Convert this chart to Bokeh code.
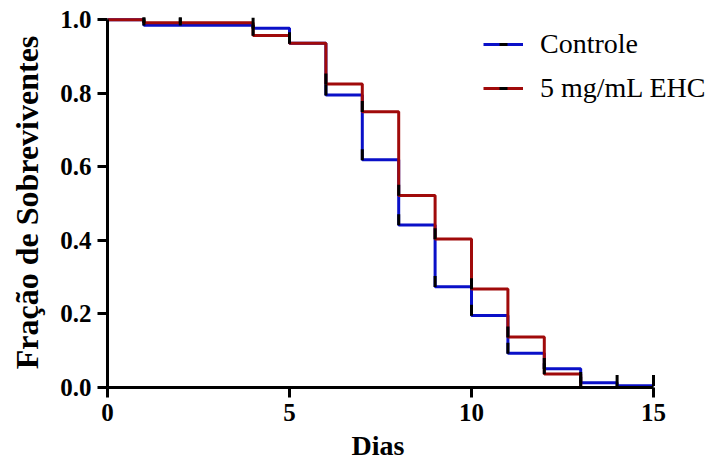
import numpy as np
from bokeh.plotting import figure
from bokeh.models import Range1d, FixedTicker, PrintfTickFormatter, Legend, LegendItem, Title
from bokeh.embed import file_html
from bokeh.resources import INLINE

# Data (Kaplan-Meier survival steps)
ctrl_days = [0, 1, 4, 5, 6, 7, 8, 9, 10, 11, 12, 13, 14, 15]
ctrl_surv = [1.0, 0.985, 0.977, 0.936, 0.795, 0.619, 0.442, 0.274, 0.196, 0.093, 0.051, 0.013, 0.005, 0.005]
ehc_days = [0, 1, 4, 5, 6, 7, 8, 9, 10, 11, 12, 13]
ehc_surv = [1.0, 0.992, 0.957, 0.936, 0.825, 0.750, 0.522, 0.404, 0.268, 0.137, 0.037, 0.0]
ctrl_marks = [1, 2, 4, 5, 6, 7, 8, 9, 10, 11, 12, 13, 14, 15]
ehc_marks = [1, 2, 4, 5, 6, 7, 8, 9, 10, 11, 12, 13]
x_ticks = [0, 5, 10, 15]
y_ticks = [0.0, 0.2, 0.4, 0.6, 0.8, 1.0]
series_names = ["Controle", "5 mg/mL EHC"]
x_label = "Dias"
y_label = "Fração de Sobreviventes"

BLUE = "#0a10c8"
RED = "#a00a0a"
FONT = "Liberation Serif"


def level_at(days, surv, t):
    idx = np.searchsorted(np.array(days), t, side="right") - 1
    return np.array(surv)[idx]


# frame runs to the right edge so the legend text is not clipped;
# axis bounds keep the drawn axis at 0..15
px_per_day = 546 / 15.0
x_end = 15 + 72 / px_per_day

p = figure(width=725, height=472, output_backend="svg", toolbar_location=None,
           x_range=Range1d(0, x_end), y_range=Range1d(0, 1.006),
           min_border_left=107, min_border_right=0, min_border_top=17, min_border_bottom=85)
p.outline_line_color = None
p.xgrid.visible = False
p.ygrid.visible = False
p.background_fill_color = "white"
p.border_fill_color = "white"

r_ctrl = p.step(ctrl_days, ctrl_surv, mode="after", line_color=BLUE, line_width=3)
r_ehc = p.step(ehc_days, ehc_surv, mode="after", line_color=RED, line_width=3)

tick_off = 0.014
cy = level_at(ctrl_days, ctrl_surv, ctrl_marks) + tick_off
ey = level_at(ehc_days, ehc_surv, ehc_marks) + tick_off
m_ctrl = p.scatter(ctrl_marks, cy, marker="dash", angle=np.pi / 2, size=11,
                   line_color="black", line_width=3)
m_ehc = p.scatter(ehc_marks, ey, marker="dash", angle=np.pi / 2, size=11,
                  line_color="black", line_width=3)

for ax in (p.xaxis[0], p.yaxis[0]):
    ax.axis_line_width = 3
    ax.axis_line_color = "black"
    ax.major_tick_line_width = 3
    ax.major_tick_line_color = "black"
    ax.major_tick_out = 10
    ax.major_tick_in = 0
    ax.minor_tick_line_color = None
    ax.major_label_text_font = FONT
    ax.major_label_text_font_style = "bold"
    ax.major_label_text_font_size = "25px"
    ax.major_label_text_color = "black"
    ax.axis_label_text_font = FONT
    ax.axis_label_text_font_style = "bold"
    ax.axis_label_text_color = "black"

p.xaxis[0].ticker = FixedTicker(ticks=x_ticks)
p.xaxis[0].bounds = (0, 15)
p.xaxis[0].major_label_standoff = 6

# x axis title placed under the middle of the 0..15 axis (frame extends further right)
xt = Title(text=x_label, align="left", offset=244, standoff=8,
           text_font=FONT, text_font_style="bold", text_font_size="28px",
           text_color="black")
p.add_layout(xt, "below")

p.yaxis[0].ticker = FixedTicker(ticks=y_ticks)
p.yaxis[0].formatter = PrintfTickFormatter(format="%.1f")
p.yaxis[0].bounds = (0, 1)
p.yaxis[0].axis_label = y_label
p.yaxis[0].axis_label_text_font_size = "32px"
p.yaxis[0].major_label_standoff = 6
p.yaxis[0].axis_label_standoff = 12

legend = Legend(items=[
    LegendItem(label=series_names[0], renderers=[r_ctrl, m_ctrl]),
    LegendItem(label=series_names[1], renderers=[r_ehc, m_ehc]),
], location=(376, 283))
legend.label_text_font = FONT
legend.label_text_font_size = "28px"
legend.label_text_color = "black"
legend.glyph_width = 40
legend.glyph_height = 20
legend.label_height = 30
legend.spacing = 12
legend.label_standoff = 17
legend.padding = 0
legend.margin = 0
legend.border_line_color = None
legend.background_fill_alpha = 0
p.add_layout(legend)

open("out.html", "w").write(file_html(p, INLINE))
